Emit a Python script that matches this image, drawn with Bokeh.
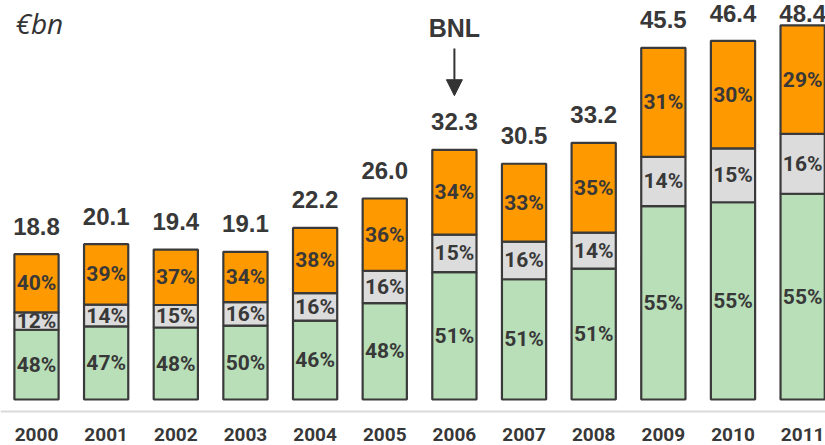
from bokeh.plotting import figure
from bokeh.models import Range1d, Span, Arrow, NormalHead, ColumnDataSource
from bokeh.core.properties import value
from bokeh.embed import file_html
from bokeh.resources import INLINE

# ---- data ----
years = ["2000", "2001", "2002", "2003", "2004", "2005", "2006", "2007", "2008", "2009", "2010", "2011"]
totals = [18.8, 20.1, 19.4, 19.1, 22.2, 26.0, 32.3, 30.5, 33.2, 45.5, 46.4, 48.4]
pct_green = [48, 47, 48, 50, 46, 48, 51, 51, 51, 55, 55, 55]
pct_grey = [12, 14, 15, 16, 16, 16, 15, 16, 14, 14, 15, 16]
pct_orange = [40, 39, 37, 34, 38, 36, 34, 33, 35, 31, 30, 29]
unit_label = "€bn"
event_label = "BNL"
event_year = "2006"

# ---- layout constants ----
W, H = 825, 445
PX_X = 69.65          # px per category
PX_Y = 7.73           # px per €bn
ZERO_PX = 399         # frame y of value 0
X0 = -36 / PX_X
x_range = Range1d(X0, X0 + W / PX_X)
y_range = Range1d(-(H - ZERO_PX) / PX_Y, ZERO_PX / PX_Y)

TXT = "#383838"
OUT = "#3a3a3a"

p = figure(width=W, height=H, x_range=x_range, y_range=y_range,
           x_axis_type=None, y_axis_type=None, toolbar_location=None,
           output_backend="svg", min_border=0)
p.outline_line_color = None
p.xgrid.visible = False
p.ygrid.visible = False
p.background_fill_color = "white"

idx = list(range(len(years)))
g = [t * a / 100 for t, a in zip(totals, pct_green)]
gr = [t * a / 100 for t, a in zip(totals, pct_grey)]
o = [t * a / 100 for t, a in zip(totals, pct_orange)]
b1 = g
b2 = [a + b for a, b in zip(g, gr)]

# total labels float 28px above the bar, but stay inside the picture
def tot_offset(t):
    top_px = ZERO_PX - t * PX_Y
    return -28 if top_px - 28 >= 13 else -(top_px - 13)

src = ColumnDataSource(dict(
    x=idx, years=years, totals=totals,
    tot_lbl=[f"{t:.1f}" for t in totals],
    tot_off=[tot_offset(t) for t in totals],
    g=g, b1=b1, b2=b2, top=[b + c for b, c in zip(b2, o)],
    zero=[0] * len(idx),
    yg=[v / 2 for v in g], ygr=[a + b / 2 for a, b in zip(b1, gr)], yo=[a + b / 2 for a, b in zip(b2, o)],
    lg=[f"{v}%" for v in pct_green], lgr=[f"{v}%" for v in pct_grey], lo=[f"{v}%" for v in pct_orange],
))

BW = 0.635
p.vbar(x="x", bottom="zero", top="b1", width=BW, source=src, fill_color="#b8dfb8",
       line_color=OUT, line_width=2.2)
p.vbar(x="x", bottom="b1", top="b2", width=BW, source=src, fill_color="#dcdcdc",
       line_color=OUT, line_width=2.2)
p.vbar(x="x", bottom="b2", top="top", width=BW, source=src, fill_color="#ff9900",
       line_color=OUT, line_width=2.2)

# baseline line below bars
p.add_layout(Span(location=-12 / PX_Y, dimension="width", line_color="#d9d9d9", line_width=2))

pct_font = value("Roboto")
for col, ycol in (("lg", "yg"), ("lgr", "ygr"), ("lo", "yo")):
    p.text(x="x", y=ycol, text=col, source=src, text_font=pct_font, text_font_style="bold",
           text_font_size="21px", text_color=TXT, text_align="center", text_baseline="middle")

# totals
p.text(x="x", y="totals", text="tot_lbl", source=src, text_font=value("Liberation Sans"),
       text_font_style="bold", text_font_size="24px", text_color=TXT, text_align="center",
       text_baseline="middle", y_offset="tot_off")

# year labels
p.text(x="x", y="zero", text="years", source=src, text_font=value("Roboto"),
       text_font_style="bold", text_font_size="19px", text_color=TXT, text_align="center",
       text_baseline="middle", y_offset=35)

# unit label
p.text(x=[X0 + 15 / PX_X], y=[(ZERO_PX - 22.5) / PX_Y], text=[unit_label], text_font=value("Open Sans"),
       text_font_style="italic", text_font_size="28px", text_color="#333333",
       text_align="left", text_baseline="middle")

# BNL marker
ei = years.index(event_year)
et = totals[ei]
p.text(x=[ei], y=[et + 15.7], text=[event_label], text_font=value("Liberation Sans"),
       text_font_style="bold", text_font_size="25px", text_color=TXT, text_align="center",
       text_baseline="middle")
p.add_layout(Arrow(x_start=ei, y_start=et + 13.1, x_end=ei, y_end=et + 7.0,
                   line_color="#333333", line_width=2,
                   end=NormalHead(size=16, fill_color="#333333", line_color="#333333", line_width=1)))

open("out.html", "w").write(file_html(p, INLINE))
